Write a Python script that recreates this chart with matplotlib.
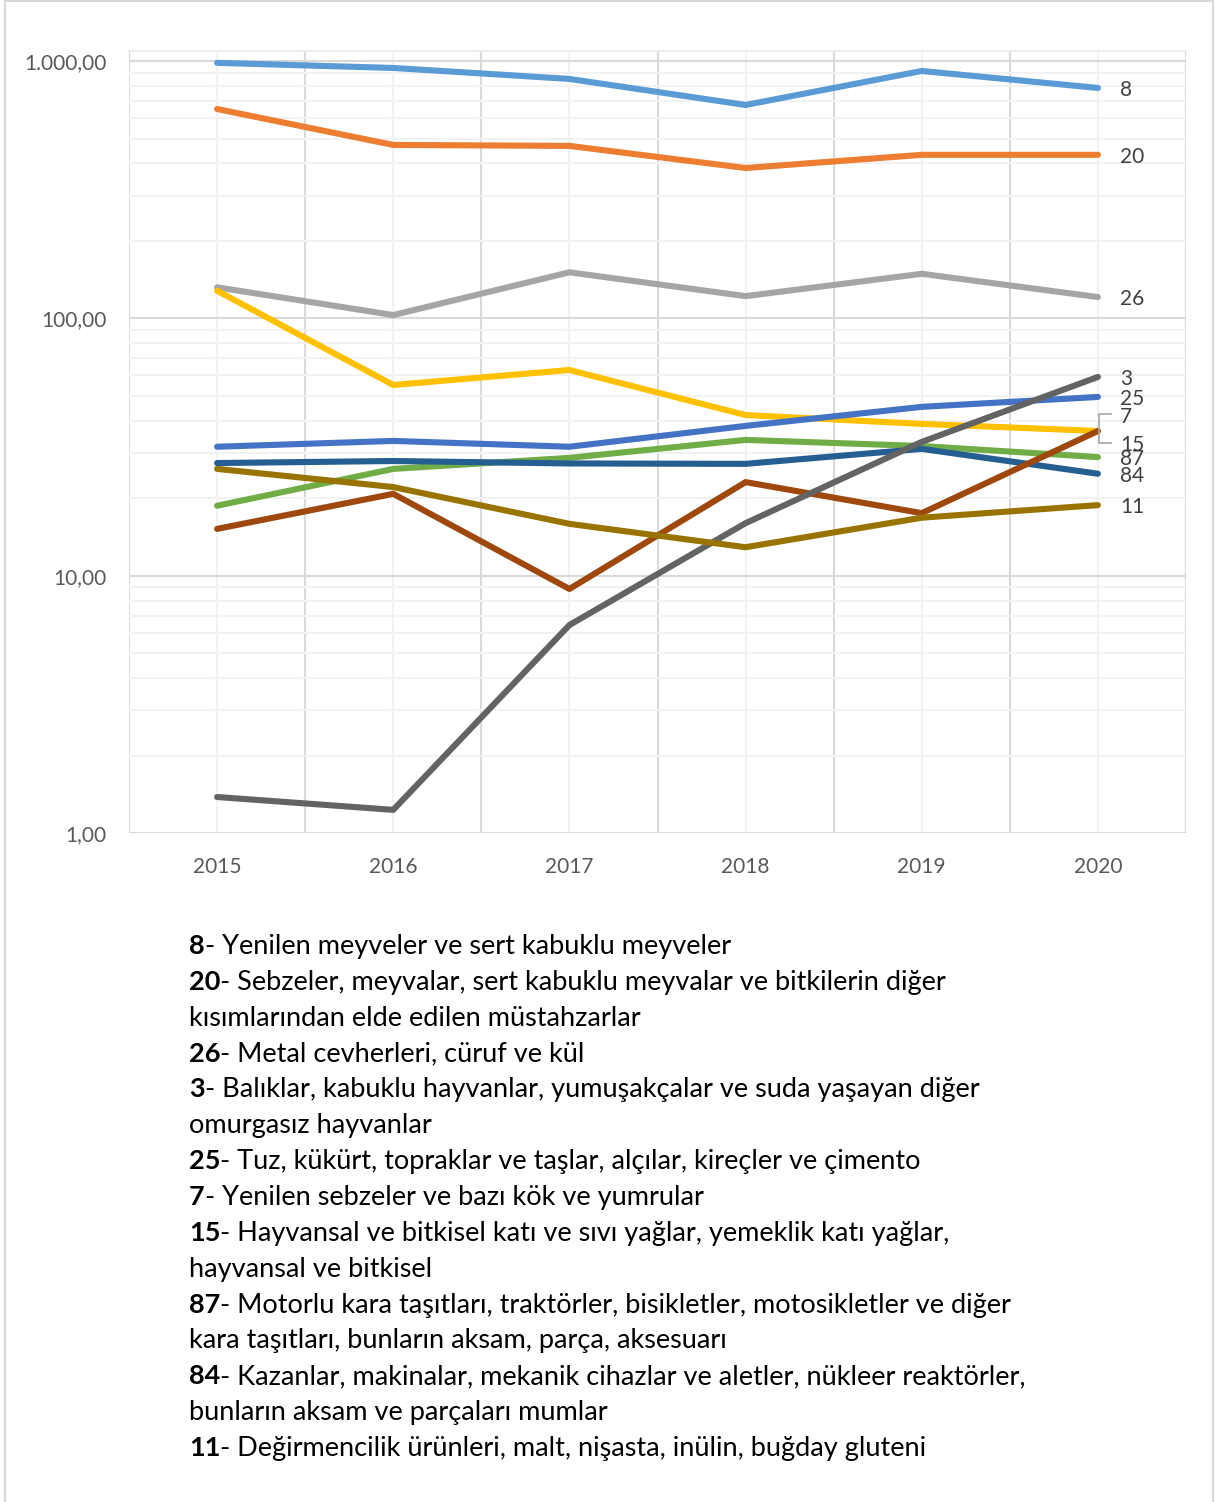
import matplotlib
matplotlib.use("Agg")
import matplotlib.pyplot as plt
from matplotlib.ticker import FixedLocator, FuncFormatter, NullFormatter
from matplotlib.lines import Line2D
from matplotlib.transforms import IdentityTransform

plt.rcParams['font.family'] = ['Lato', 'DejaVu Sans']

W, H = 1215, 1502

# --- data ---
years = [2015, 2016, 2017, 2018, 2019, 2020]

# drawing order follows the Excel palette order
codes = ['8', '20', '26', '7', '25', '87', '84', '15', '3', '11']
s8 = [984, 940, 852, 675, 915, 786]
s20 = [651, 472, 468, 384, 432, 432]
s26 = [132, 103, 151, 122, 149, 121]
s7 = [128, 55.1, 63.0, 42.1, 38.9, 36.5]
s25 = [31.7, 33.4, 31.7, 38.2, 45.3, 49.5]
s87 = [18.7, 26.0, 28.7, 33.7, 31.9, 28.9]
s84 = [27.4, 27.9, 27.3, 27.2, 31.1, 24.9]
s15 = [15.2, 20.8, 8.88, 23.1, 17.5, 36.5]
s3 = [1.38, 1.23, 6.43, 16.0, 33.1, 59.2]
s11 = [26.0, 22.1, 15.9, 12.9, 16.8, 18.8]
series = [s8, s20, s26, s7, s25, s87, s84, s15, s3, s11]

colors = ['#5B9BD5', '#ED7D31', '#A5A5A5', '#FFC000', '#4472C4',
          '#70AD47', '#255E91', '#9E480E', '#636363', '#997300']

# vertical nudge (px) of the end labels that would overlap
label_nudge = {'7': -16, '15': 12}

legend_rows = [
    ('8', '- Yenilen meyveler ve sert kabuklu meyveler'),
    ('20', '- Sebzeler, meyvalar, sert kabuklu meyvalar ve bitkilerin diğer'),
    ('', 'kısımlarından elde edilen müstahzarlar'),
    ('26', '- Metal cevherleri, cüruf ve kül'),
    ('3', '- Balıklar, kabuklu hayvanlar, yumuşakçalar ve suda yaşayan diğer'),
    ('', 'omurgasız hayvanlar'),
    ('25', '- Tuz, kükürt, topraklar ve taşlar, alçılar, kireçler ve çimento'),
    ('7', '- Yenilen sebzeler ve bazı kök ve yumrular'),
    ('15', '- Hayvansal ve bitkisel katı ve sıvı yağlar, yemeklik katı yağlar,'),
    ('', 'hayvansal ve bitkisel'),
    ('87', '- Motorlu kara taşıtları, traktörler, bisikletler, motosikletler ve diğer'),
    ('', 'kara taşıtları, bunların aksam, parça, aksesuarı'),
    ('84', '- Kazanlar, makinalar, mekanik cihazlar ve aletler, nükleer reaktörler,'),
    ('', 'bunların aksam ve parçaları mumlar'),
    ('11', '- Değirmencilik ürünleri, malt, nişasta, inülin, buğday gluteni'),
]

fig = plt.figure(figsize=(W / 100, H / 100), dpi=100)
ax = fig.add_axes([129 / W, 1 - 833 / H, (1186 - 129) / W, (833 - 51) / H])

for code, vals, col in zip(codes, series, colors):
    ax.plot(years, vals, color=col, lw=4.4, solid_capstyle='round',
            solid_joinstyle='round')
    ax.annotate(code, xy=(years[-1], vals[-1]),
                xytext=(16, -(label_nudge.get(code, 0) + 2) * 0.72),
                textcoords='offset points', va='center', ha='left',
                fontsize=15, color='#404040', annotation_clip=False)

ax.set_yscale('log')
ax.set_ylim(1, 1094)
ax.set_xlim(2014.5, 2020.5)

ax.yaxis.set_major_locator(FixedLocator([1, 10, 100, 1000]))
ax.yaxis.set_minor_locator(FixedLocator([m * 10 ** e for e in range(3) for m in range(2, 10)]))
ax.yaxis.set_major_formatter(FuncFormatter(
    lambda v, p: f"{v:,.2f}".replace(',', 'X').replace('.', ',').replace('X', '.')))
ax.yaxis.set_minor_formatter(NullFormatter())

ax.set_xticks(years)
ax.set_xticklabels([str(y) for y in years])
ax.set_xticks([y - 0.5 for y in years] + [2020.5], minor=True)

ax.grid(which='major', axis='y', color='#D9D9D9', lw=1.5)
ax.grid(which='minor', axis='y', color='#F2F2F2', lw=1.5)
ax.grid(which='minor', axis='x', color='#D9D9D9', lw=1.5)
ax.grid(which='major', axis='x', color='#F2F2F2', lw=1.5)
ax.set_axisbelow(True)

ax.tick_params(which='both', length=0)
ax.tick_params(axis='y', pad=16, labelsize=15, labelcolor='#595959')
ax.tick_params(axis='x', pad=17, labelsize=15, labelcolor='#595959')
for side in ['left', 'right', 'bottom']:
    ax.spines[side].set_visible(False)
ax.spines['top'].set_color('#EDEDED')
ax.spines['top'].set_linewidth(1.5)

# bracket leader for the overlapping 7 / 15 labels
x0, y0 = ax.transData.transform((years[-1], s7[-1]))
fig.add_artist(Line2D([x0 + 13, x0 + 1, x0 + 1, x0 + 13],
                      [y0 + 17, y0 + 17, y0 - 12, y0 - 12],
                      transform=IdentityTransform(), color='#A6A6A6', lw=1.2))

# outer chart border
for xs, ys in [([5 / W, 5 / W], [0, 1]), ([1213 / W, 1213 / W], [0, 1]),
               ([5 / W, 1213 / W], [1 - 1 / H, 1 - 1 / H])]:
    fig.add_artist(Line2D(xs, ys, color='#D9D9D9', lw=1.5))

# text legend under the chart
fs = 19.5
for i, (num, text) in enumerate(legend_rows):
    yb = 1 - (954 + 35.86 * i) / H
    if num:
        t = fig.text(189 / W, yb, num, fontsize=fs, weight='bold', va='baseline')
        ax.annotate(text, xy=(1, yb), xycoords=(t, 'figure fraction'),
                    va='baseline', ha='left', fontsize=fs, annotation_clip=False)
    else:
        fig.text(189 / W, yb, text, fontsize=fs, va='baseline')

fig.savefig('out.png', dpi=100)
